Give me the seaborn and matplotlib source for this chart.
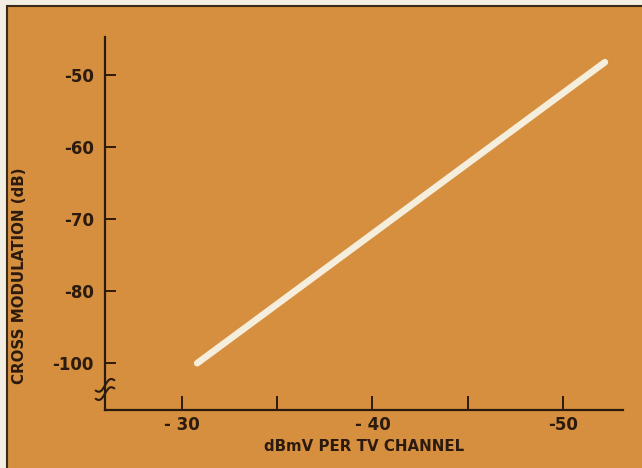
import numpy as np
import pandas as pd
import seaborn as sns
import matplotlib.pyplot as plt
from matplotlib.patches import Rectangle

# data (y in axis position units; bottom tick is labelled -100)
dbmv = [-30.8, -52.2]
cross_mod = [-90.0, -48.2]

xticks = [-30, -35, -40, -45, -50]
xtick_labels = ["- 30", "", "- 40", "", "-50"]
yticks = [-50, -60, -70, -80, -90]
ytick_labels = ["-50", "-60", "-70", "-80", "-100"]

orange = "#D58F3E"
ink = "#2b1a0e"
cream = "#F6EEDC"

sns.set_style("white")
plt.rcParams['font.family'] = ['DejaVu Sans']

fig = plt.figure(figsize=(6.42, 4.68), dpi=100)
fig.patch.set_facecolor("#F3EEE2")
fig.patches.append(Rectangle((7 / 642, -0.01), 1.02, 1 - 6 / 468 + 0.01,
                             transform=fig.transFigure, facecolor=orange,
                             edgecolor="#3a2a1a", linewidth=1.5, zorder=-10))

ax = fig.add_axes([105 / 642, 1 - 410 / 468, 518 / 642, 373 / 468])
ax.set_zorder(5)
ax.set_facecolor("none")

df = pd.DataFrame({"x": dbmv, "y": cross_mod})
sns.lineplot(data=df, x="x", y="y", ax=ax, color=cream, linewidth=4.8,
             solid_capstyle="round")

ax.set_xlim(-25.96, -53.15)
ax.set_ylim(-96.5, -44.7)

ax.set_xticks(xticks)
ax.set_xticklabels(xtick_labels, fontweight="bold")
ax.set_yticks(yticks)
ax.set_yticklabels(ytick_labels, fontweight="bold")

for s in ["top", "right"]:
    ax.spines[s].set_visible(False)
for s in ["left", "bottom"]:
    ax.spines[s].set_color(ink)
    ax.spines[s].set_linewidth(1.6)

ax.tick_params(axis="x", direction="in", length=10, width=1.4, color=ink,
               labelsize=12, labelcolor=ink, pad=4)
ax.tick_params(axis="y", direction="in", length=8, width=1.4, color=ink,
               labelsize=12, labelcolor=ink, pad=8)
ax.tick_params(left=True, bottom=True)

ax.set_xlabel("dBmV PER TV CHANNEL", fontsize=10.8, fontweight="bold",
              color=ink, labelpad=4)
ax.set_ylabel("CROSS MODULATION (dB)", fontsize=10.8, fontweight="bold",
              color=ink)
ax.yaxis.set_label_coords(-0.15, 0.36)

# axis break marks
t = np.linspace(-1, 1, 40)
for y0 in [0.066, 0.044]:
    ax.plot(0.018 * t, y0 + 0.014 * t + 0.009 * np.sin(np.pi * t), color=ink,
            linewidth=1.5, transform=ax.transAxes, clip_on=False)

plt.savefig("out.png", dpi=100, facecolor=fig.get_facecolor())
